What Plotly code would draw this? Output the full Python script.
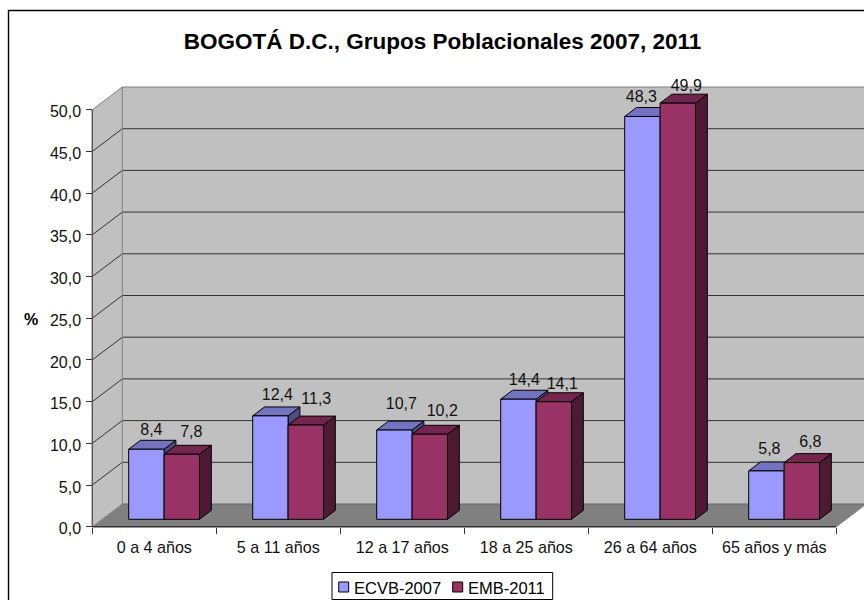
import plotly.graph_objects as go

categories = ["0 a 4 años", "5 a 11 años", "12 a 17 años", "18 a 25 años", "26 a 64 años", "65 años y más"]
ecvb_2007 = [8.4, 12.4, 10.7, 14.4, 48.3, 5.8]
emb_2011 = [7.8, 11.3, 10.2, 14.1, 49.9, 6.8]
y_ticks = [0, 5, 10, 15, 20, 25, 30, 35, 40, 45, 50]
FONT = "Liberation Sans"

# pixel layout
W, H = 864, 600
X0, PX_CAT = 92.3, 124.0
Y0, PX_VAL = 526.7, 8.34
DX, DY = 30 / PX_CAT, 22.7 / PX_VAL  # full depth in data units

# hand placement of the value labels, in pixels from the top of each bar
NUDGE_X = {"a": [5, 7, 7, 6, -1, 3], "b": [9.5, 10.5, 12.5, 8.5, 8.5, 8.5]}
NUDGE_Y = {"a": [18.3, 19.9, 25, 18.2, 18.5, 20.9], "b": [21, 25, 22, 17, 16, 20]}


def proj(x, y, d):
    return x + d * DX, y + d * DY


fig = go.Figure()


def poly(pts, fill, line="rgba(0,0,0,0)", width=0):
    xs = [p[0] for p in pts] + [pts[0][0]]
    ys = [p[1] for p in pts] + [pts[0][1]]
    fig.add_trace(go.Scatter(x=xs, y=ys, mode="lines", fill="toself", fillcolor=fill,
                             line=dict(color=line, width=width), hoverinfo="skip", showlegend=False))


def seg(pts, color, width=1):
    fig.add_trace(go.Scatter(x=[p[0] for p in pts], y=[p[1] for p in pts], mode="lines",
                             line=dict(color=color, width=width), hoverinfo="skip", showlegend=False))


n = len(categories)
top = y_ticks[-1]
# floor and walls
poly([proj(0, 0, 0), proj(n, 0, 0), proj(n, 0, 1), proj(0, 0, 1)], "#808080")
poly([proj(0, 0, 0), proj(0, top, 0), proj(0, top, 1), proj(0, 0, 1)], "#C0C0C0")
poly([proj(0, 0, 1), proj(0, top, 1), proj(n, top, 1), proj(n, 0, 1)], "#C0C0C0")
for v in y_ticks[1:-1]:
    seg([proj(0, v, 0), proj(0, v, 1), proj(n, v, 1)], "#333333", 1)
seg([proj(0, top, 0), proj(0, top, 1), proj(n, top, 1)], "#808080", 1)
seg([proj(0, 0, 1), proj(0, top, 1)], "#808080", 1)
seg([proj(0, 0, 1), proj(n, 0, 1), proj(n, top, 1)], "#666666", 1)
seg([proj(0, 0, 0), proj(0, 0, 1)], "#808080", 1)
seg([proj(n, 0, 0), proj(n, 0, 1)], "#808080", 1)
seg([proj(0, 0, 0), proj(0, top, 0)], "#555555", 1.4)
seg([proj(0, 0, 0), proj(n, 0, 0)], "#333333", 1.4)

BW = 35.4 / PX_CAT
D0, D1 = 0.326, 0.72
edge = "#000000"


def bar(x0, v, front, topc, side):
    x1 = x0 + BW
    a, b, c, d = proj(x0, 0, D0), proj(x1, 0, D0), proj(x1, v, D0), proj(x0, v, D0)
    e, f, g = proj(x1, 0, D1), proj(x1, v, D1), proj(x0, v, D1)
    poly([b, e, f, c], side, edge, 1)
    poly([d, c, f, g], topc, edge, 1)
    poly([a, b, c, d], front, edge, 1)


series = [(ecvb_2007, "#9999FF", "#7373BF", "#4D4D80", -BW, "a"),
          (emb_2011, "#993366", "#73264D", "#4D1A33", 0, "b")]
lx, ly, lt = [], [], []
for vals, fc, tc, sc, off, key in series:
    for i, v in enumerate(vals):
        bar(i + 0.5 + off, v, fc, tc, sc)
        p = proj(i + 0.5 + off + BW / 2 + NUDGE_X[key][i] / PX_CAT, v + NUDGE_Y[key][i] / PX_VAL, D0)
        lx.append(p[0]); ly.append(p[1]); lt.append(f"{v:.1f}".replace(".", ","))

fig.add_trace(go.Scatter(x=lx, y=ly, text=lt, mode="text", textposition="middle center",
                         textfont=dict(family=FONT, size=16, color="#111"), hoverinfo="skip", showlegend=False))


def px(x):
    return x / W


def py(y):
    return 1 - y / H


legend_items = [("ECVB-2007", "#9999FF", 338.7, 353), ("EMB-2011", "#993366", 452.7, 466.5)]
shapes = [
    dict(type="rect", xref="paper", yref="paper", x0=px(8.5), x1=1.2, y0=-0.2, y1=py(10.5),
         line=dict(color="#000", width=1.4), fillcolor="rgba(0,0,0,0)", layer="above"),
    dict(type="rect", xref="paper", yref="paper", x0=px(332), x1=px(552.7), y0=py(599.5), y1=py(572.5),
         line=dict(color="#000", width=1), fillcolor="#FFFFFF", layer="above"),
]
annotations = [dict(text="<b>%</b>", xref="paper", yref="paper", x=px(31), xanchor="center", y=py(319),
                    yanchor="middle", showarrow=False, font=dict(family=FONT, size=16, color="#000"))]
for name, col, mx, tx in legend_items:
    shapes.append(dict(type="rect", xref="paper", yref="paper", x0=px(mx), x1=px(mx + 10), y0=py(592), y1=py(582),
                       line=dict(color="#000", width=1), fillcolor=col, layer="above"))
    annotations.append(dict(text=name, xref="paper", yref="paper", x=px(tx), xanchor="left", y=py(587.5),
                            yanchor="middle", showarrow=False, xshift=-1,
                            font=dict(family=FONT, size=16.5, color="#000")))

fig.update_layout(
    width=W, height=H, margin=dict(l=0, r=0, t=0, b=0), autosize=False,
    paper_bgcolor="#FFFFFF", plot_bgcolor="#FFFFFF", showlegend=False,
    font=dict(family=FONT, size=16, color="#111"),
    title=dict(text="<b>BOGOTÁ D.C., Grupos Poblacionales 2007, 2011</b>", x=442.5 / W, xanchor="center",
               y=1 - 41 / H, yanchor="middle", font=dict(family=FONT, size=22.5, color="#000")),
    xaxis=dict(range=[-X0 / PX_CAT, (W - X0) / PX_CAT], domain=[0, 1], anchor="free", position=(H - Y0) / H,
               side="bottom", showgrid=False, zeroline=False, showline=False,
               tickmode="array", tickvals=[i + 0.5 for i in range(n)], ticktext=categories, ticks="",
               tickfont=dict(size=16.1), ticklabelstandoff=9,
               minor=dict(tickmode="array", tickvals=list(range(n + 1)), ticks="outside", ticklen=6,
                          tickcolor="#333333", showgrid=False)),
    yaxis=dict(range=[(Y0 - H) / PX_VAL, Y0 / PX_VAL], domain=[0, 1], anchor="free", position=X0 / W,
               showgrid=False, zeroline=False, showline=False,
               tickmode="array", tickvals=y_ticks, ticktext=[f"{v:.1f}".replace(".", ",") for v in y_ticks],
               ticks="outside", ticklen=6, tickcolor="#333333", tickfont=dict(size=16),
               ticklabelstandoff=2, ticklabelshift=2),
    shapes=shapes,
    annotations=annotations,
)
fig.write_html("out.html", config={"displayModeBar": False},
               post_script="document.body.style.margin='0';document.documentElement.style.overflow='hidden';")
